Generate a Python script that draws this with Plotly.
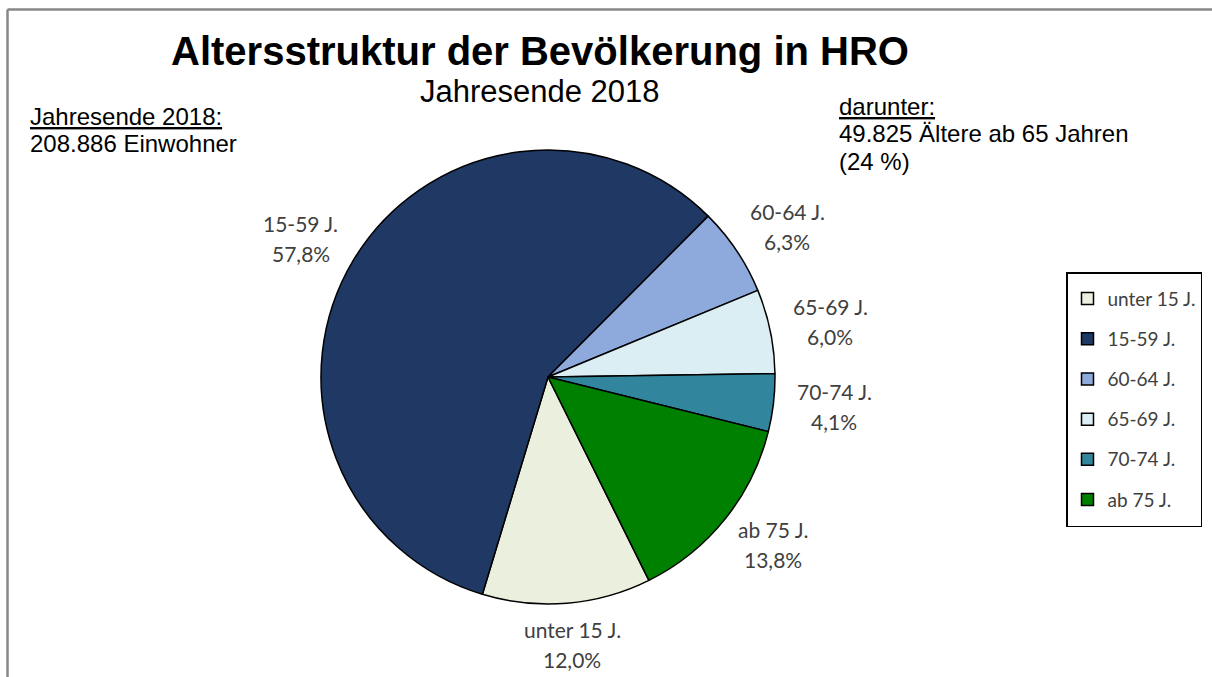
import math
import plotly.graph_objects as go

# ---- data ----
categories = ["unter 15 J.", "15-59 J.", "60-64 J.", "65-69 J.", "70-74 J.", "ab 75 J."]
shares = [12.0, 57.8, 6.3, 6.0, 4.1, 13.8]
colors = ["#EBF0DE", "#1F3864", "#8EA9DB", "#DAEEF3", "#31859C", "#008000"]
title_text = "Altersstruktur der Bevölkerung in HRO"
subtitle_text = "Jahresende 2018"
left_note = ["Jahresende 2018:", "208.886 Einwohner"]
right_note = ["darunter:", "49.825 Ältere ab 65 Jahren", "(24 %)"]

W, H = 1212, 677
CX, CY, R = 548, 377, 227   # pie centre / radius in px
ROTATION = 153.6            # first slice start angle (deg, clockwise from 12 o'clock)


def px(x):
    return x / W


def py(y):
    return (H - y) / H


fig = go.Figure()
fig.add_trace(go.Pie(
    labels=[f'<span style="font-size:19px;baseline-shift:4px">{c}</span>' for c in categories],
    values=shares,
    sort=False,
    direction="clockwise",
    rotation=ROTATION,
    marker=dict(colors=colors, line=dict(color="black", width=1.5)),
    textinfo="none",
    hoverinfo="percent",
    domain=dict(x=[px(CX - R), px(CX + R)], y=[py(CY + R), py(CY - R)]),
))

annotations = []
# slice labels, positioned from the data angles
total = sum(shares)
start = ROTATION
lab_font = dict(family="Lato", size=21, color="#404040")
for cat, v in zip(categories, shares):
    span = v / total * 360
    mid = math.radians(start + span / 2)
    start += span
    s, c = math.sin(mid), math.cos(mid)
    dist = R + 16
    lx = CX + s * dist + s * 45
    ly = CY - c * dist - c * 26
    pct = f"{v:.1f}".replace(".", ",") + "%"
    for txt, off in ((cat, -16), (pct, 14)):
        annotations.append(dict(x=px(lx), y=py(ly + off), xref="paper", yref="paper",
                                text=txt, showarrow=False, xanchor="center",
                                yanchor="middle", font=lab_font))

annotations.append(dict(x=px(540), y=py(51), xref="paper", yref="paper",
                        text=f"<b>{title_text}</b>", showarrow=False,
                        xanchor="center", yanchor="middle",
                        font=dict(family="Liberation Sans", size=40, color="black")))
annotations.append(dict(x=px(540), y=py(92), xref="paper", yref="paper",
                        text=subtitle_text, showarrow=False,
                        xanchor="center", yanchor="middle",
                        font=dict(family="Liberation Sans", size=31, color="black")))
note_font = dict(family="Liberation Sans", size=24, color="black")
for i, line in enumerate(left_note):
    annotations.append(dict(x=px(28), y=py(116 + 27 * i), xref="paper", yref="paper",
                            text=f"<u>{line}</u>" if i == 0 else line, showarrow=False,
                            xanchor="left", yanchor="middle", font=note_font))
for i, line in enumerate(right_note):
    annotations.append(dict(x=px(837), y=py(107 + 27 * i), xref="paper", yref="paper",
                            text=f"<u>{line}</u>" if i == 0 else line, showarrow=False,
                            xanchor="left", yanchor="middle", font=note_font))

frame = dict(color="#888888", width=2.5)
shapes = [
    dict(type="line", xref="paper", yref="paper", x0=px(7.5), x1=1, y0=py(9.5), y1=py(9.5), line=frame),
    dict(type="line", xref="paper", yref="paper", x0=px(7.5), x1=px(7.5), y0=0, y1=py(9.5), line=frame),
]

fig.update_layout(
    width=W, height=H,
    margin=dict(l=0, r=0, t=0, b=0),
    paper_bgcolor="white", plot_bgcolor="white",
    showlegend=True,
    legend=dict(x=px(1202), y=py(272), xanchor="right", yanchor="top",
                bordercolor="black", borderwidth=1.5, bgcolor="white",
                font=dict(family="Lato", size=28.6, color="#404040"),
                traceorder="normal"),
    annotations=annotations,
    shapes=shapes,
)

fig.write_html("out.html", config={"displayModeBar": False},
               post_script="document.body.style.margin='0px';")
